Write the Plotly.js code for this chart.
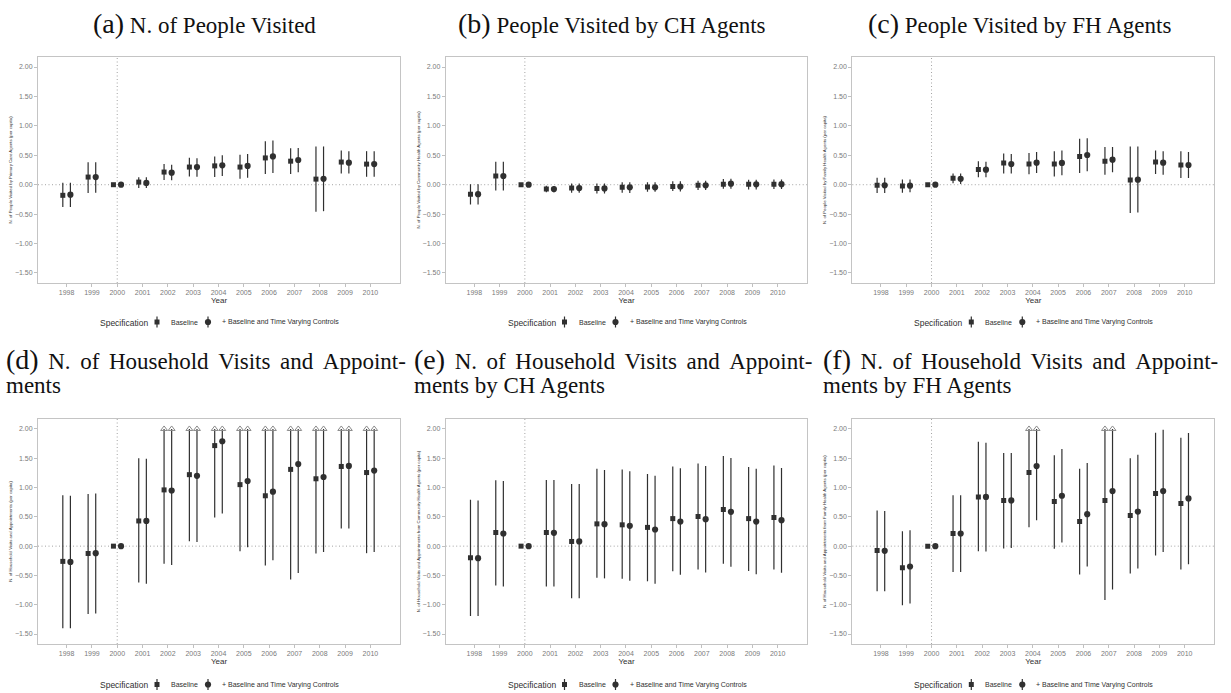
<!DOCTYPE html>
<html>
<head>
<meta charset="utf-8">
<script src="https://cdn.plot.ly/plotly-3.0.1.min.js"></script>
<style>html,body{margin:0;padding:0;background:#fff;}#chart{width:1231px;height:693px;}</style>
</head>
<body>
<div id="chart"></div>
<script>
// ---------------- DATA ----------------
const years = [1998, 1999, 2000, 2001, 2002, 2003, 2004, 2005, 2006, 2007, 2008, 2009, 2010];
const seriesNames = ['Baseline', '+ Baseline and Time Varying Controls'];
const legendTitle = 'Specification';
const xTitle = 'Year';
const yTickVals = [2.0, 1.5, 1.0, 0.5, 0.0, -0.5, -1.0, -1.5];
const capValue = 2.0;

// (a) N. of People Visited
const aBaseEst = [-0.18, 0.13, 0, 0.045, 0.215, 0.30, 0.32, 0.30, 0.455, 0.40, 0.095, 0.385, 0.35];
const aBaseLo  = [-0.38, -0.14, 0, -0.055, 0.08, 0.14, 0.13, 0.10, 0.18, 0.18, -0.46, 0.19, 0.135];
const aBaseHi  = [0.035, 0.38, 0, 0.125, 0.35, 0.46, 0.48, 0.51, 0.74, 0.62, 0.65, 0.58, 0.57];
const aCtrlEst = [-0.17, 0.13, 0, 0.03, 0.205, 0.30, 0.33, 0.32, 0.48, 0.42, 0.10, 0.375, 0.35];
const aCtrlLo  = [-0.38, -0.135, 0, -0.057, 0.075, 0.135, 0.15, 0.12, 0.20, 0.21, -0.45, 0.19, 0.135];
const aCtrlHi  = [0.035, 0.38, 0, 0.125, 0.34, 0.45, 0.50, 0.52, 0.75, 0.625, 0.65, 0.57, 0.57];

// (b) People Visited by CH Agents
const bBaseEst = [-0.16, 0.148, 0, -0.074, -0.057, -0.063, -0.045, -0.04, -0.03, -0.01, 0.01, 0.006, 0.01];
const bBaseLo  = [-0.335, -0.097, 0, -0.13, -0.136, -0.15, -0.136, -0.12, -0.108, -0.09, -0.068, -0.08, -0.074];
const bBaseHi  = [0.01, 0.39, 0, -0.017, 0.02, 0.02, 0.04, 0.04, 0.057, 0.068, 0.097, 0.085, 0.09];
const bCtrlEst = [-0.16, 0.148, 0, -0.074, -0.057, -0.063, -0.045, -0.045, -0.03, -0.01, 0.017, 0.006, 0.01];
const bCtrlLo  = [-0.335, -0.097, 0, -0.13, -0.136, -0.15, -0.142, -0.12, -0.114, -0.09, -0.068, -0.08, -0.074];
const bCtrlHi  = [0.01, 0.39, 0, -0.023, 0.02, 0.02, 0.04, 0.04, 0.057, 0.068, 0.10, 0.085, 0.09];

// (c) People Visited by FH Agents
const cBaseEst = [-0.01, -0.023, 0, 0.108, 0.26, 0.37, 0.35, 0.35, 0.48, 0.40, 0.08, 0.386, 0.335];
const cBaseLo  = [-0.14, -0.136, 0, 0.023, 0.125, 0.19, 0.176, 0.14, 0.20, 0.17, -0.48, 0.18, 0.114];
const cBaseHi  = [0.12, 0.09, 0, 0.19, 0.40, 0.53, 0.54, 0.57, 0.78, 0.64, 0.65, 0.58, 0.57];
const cCtrlEst = [-0.01, -0.017, 0, 0.10, 0.256, 0.35, 0.375, 0.37, 0.505, 0.426, 0.085, 0.375, 0.335];
const cCtrlLo  = [-0.14, -0.13, 0, 0.011, 0.125, 0.19, 0.20, 0.16, 0.227, 0.21, -0.47, 0.17, 0.114];
const cCtrlHi  = [0.12, 0.09, 0, 0.19, 0.39, 0.52, 0.557, 0.58, 0.79, 0.64, 0.65, 0.57, 0.557];

// (d) N. of Household Visits and Appointments
const dBaseEst = [-0.26, -0.125, 0, 0.43, 0.96, 1.22, 1.716, 1.05, 0.86, 1.31, 1.15, 1.36, 1.256];
const dBaseLo  = [-1.40, -1.16, 0, -0.62, -0.30, 0.085, 0.49, -0.085, -0.33, -0.57, -0.125, 0.30, -0.12];
const dBaseHi  = [0.87, 0.89, 0, 1.50, 2.22, 2.355, 2.94, 2.185, 2.05, 3.19, 2.43, 2.42, 2.63];
const dCtrlEst = [-0.27, -0.12, 0, 0.43, 0.95, 1.20, 1.79, 1.11, 0.93, 1.40, 1.18, 1.37, 1.29];
const dCtrlLo  = [-1.40, -1.15, 0, -0.64, -0.32, 0.07, 0.557, -0.017, -0.24, -0.46, -0.10, 0.30, -0.10];
const dCtrlHi  = [0.86, 0.90, 0, 1.49, 2.22, 2.33, 3.02, 2.24, 2.10, 3.26, 2.46, 2.44, 2.68];

// (e) N. of Household Visits and Appointments by CH Agents
const eBaseEst = [-0.20, 0.233, 0, 0.233, 0.08, 0.38, 0.364, 0.32, 0.47, 0.506, 0.625, 0.47, 0.49];
const eBaseLo  = [-1.19, -0.67, 0, -0.69, -0.89, -0.54, -0.557, -0.60, -0.43, -0.40, -0.30, -0.426, -0.40];
const eBaseHi  = [0.79, 1.125, 0, 1.13, 1.06, 1.32, 1.31, 1.23, 1.36, 1.41, 1.54, 1.35, 1.375];
const eCtrlEst = [-0.205, 0.216, 0, 0.227, 0.08, 0.375, 0.347, 0.284, 0.42, 0.46, 0.585, 0.42, 0.443];
const eCtrlLo  = [-1.19, -0.69, 0, -0.69, -0.89, -0.55, -0.59, -0.64, -0.49, -0.45, -0.35, -0.48, -0.455];
const eCtrlHi  = [0.78, 1.11, 0, 1.13, 1.06, 1.30, 1.28, 1.20, 1.33, 1.37, 1.506, 1.32, 1.335];

// (f) N. of Household Visits and Appointments by FH Agents
const fBaseEst = [-0.074, -0.37, 0, 0.216, 0.84, 0.78, 1.258, 0.763, 0.42, 0.78, 0.524, 0.90, 0.73];
const fBaseLo  = [-0.77, -1.01, 0, -0.44, -0.085, -0.04, 0.324, -0.046, -0.484, -0.92, -0.467, -0.16, -0.40];
const fBaseHi  = [0.61, 0.256, 0, 0.87, 1.78, 1.59, 2.19, 1.55, 1.32, 2.48, 1.50, 1.935, 1.85];
const fCtrlEst = [-0.08, -0.347, 0, 0.216, 0.84, 0.78, 1.366, 0.86, 0.546, 0.94, 0.59, 0.94, 0.814];
const fCtrlLo  = [-0.77, -0.98, 0, -0.44, -0.09, -0.03, 0.44, 0.063, -0.347, -0.74, -0.38, -0.10, -0.31];
const fCtrlHi  = [0.60, 0.273, 0, 0.87, 1.765, 1.59, 2.29, 1.656, 1.42, 2.62, 1.56, 1.986, 1.93];

const panelLabels = ['(a)', '(b)', '(c)', '(d)', '(e)', '(f)'];
const titleLine1 = [
  'N. of People Visited',
  'People Visited by CH Agents',
  'People Visited by FH Agents',
  'N. of Household Visits and Appoint-',
  'N. of Household Visits and Appoint-',
  'N. of Household Visits and Appoint-'
];
const titleLine2 = ['', '', '', 'ments', 'ments by CH Agents', 'ments by FH Agents'];
const yTitles = [
  'N. of People Visited by Primary Care Agents (per capita)',
  'N. of People Visited by Community Health Agents (per capita)',
  'N. of People Visited by Family Health Agents (per capita)',
  'N. of Household Visits and Appointments (per capita)',
  'N. of Household Visits and Appointments from Community Health Agents (per capita)',
  'N. of Household Visits and Appointments from Family Health Agents (per capita)'
];

const panelData = [
  [[aBaseEst, aBaseLo, aBaseHi], [aCtrlEst, aCtrlLo, aCtrlHi]],
  [[bBaseEst, bBaseLo, bBaseHi], [bCtrlEst, bCtrlLo, bCtrlHi]],
  [[cBaseEst, cBaseLo, cBaseHi], [cCtrlEst, cCtrlLo, cCtrlHi]],
  [[dBaseEst, dBaseLo, dBaseHi], [dCtrlEst, dCtrlLo, dCtrlHi]],
  [[eBaseEst, eBaseLo, eBaseHi], [eCtrlEst, eCtrlLo, eCtrlHi]],
  [[fBaseEst, fBaseLo, fBaseHi], [fCtrlEst, fCtrlLo, fCtrlHi]]
];

// ---------------- LAYOUT / STYLE ----------------
const W = 1231, H = 693;
const colPx = [[38, 400], [445.7, 807.3], [852.3, 1214.3]];
const rowPx = [[57, 283], [419, 644]];
const legendRowY = [322, 684.5];
const xRange = [1996.87, 2011.17];
const yRange = [-1.67, 2.17];
const offsets = [-0.15, 0.15];
const symbols = ['square', 'circle'];
const sizes = [5, 6.2];
const ink = '#303030';
const tickGray = '#7a7a7a';
const sansFont = 'Liberation Sans, Arial, sans-serif';
const serifFont = 'Liberation Serif, DejaVu Serif, serif';
// justified first title lines: widen the inter-word spaces a little
const justify = s => s.split(' ').join(' \u2006');

const traces = [];
const layout = {
  width: W, height: H,
  margin: {l: 0, r: 0, t: 0, b: 0},
  paper_bgcolor: '#fff', plot_bgcolor: 'rgba(0,0,0,0)',
  font: {family: sansFont, color: ink},
  showlegend: false,
  shapes: [], annotations: []
};

// overlay axis in pixel units, used only for the legend keys
layout.xaxis7 = {domain: [0, 1], anchor: 'y7', range: [0, W], visible: false, fixedrange: true};
layout.yaxis7 = {domain: [0, 1], anchor: 'x7', range: [H, 0], visible: false, fixedrange: true};

for (let p = 0; p < 6; p++) {
  const row = Math.floor(p / 3), col = p % 3;
  const sfx = p === 0 ? '' : String(p + 1);
  const xa = 'x' + sfx, ya = 'y' + sfx;
  const xd = [colPx[col][0] / W, colPx[col][1] / W];
  const yd = [1 - rowPx[row][1] / H, 1 - rowPx[row][0] / H];

  layout['xaxis' + sfx] = {
    domain: xd, anchor: ya, range: xRange,
    tickvals: years, ticktext: years.map(String),
    showgrid: false, zeroline: false,
    showline: true, mirror: true, linecolor: '#c4c4c4', linewidth: 1,
    ticks: 'outside', ticklen: 3, tickwidth: 0.8, tickcolor: '#b0b0b0',
    tickfont: {size: 7, color: tickGray, family: sansFont},
    title: {text: xTitle, font: {size: 8, color: ink, family: sansFont}, standoff: 1},
    fixedrange: true
  };
  layout['yaxis' + sfx] = {
    domain: yd, anchor: xa, range: yRange,
    tickvals: yTickVals, tickformat: '.2f',
    showgrid: false, zeroline: false,
    showline: true, mirror: true, linecolor: '#c4c4c4', linewidth: 1,
    ticks: 'outside', ticklen: 3, tickwidth: 0.8, tickcolor: '#b0b0b0',
    tickfont: {size: 7, color: tickGray, family: sansFont},
    title: {text: yTitles[p], font: {size: 4.3, color: ink, family: sansFont}, standoff: 2},
    fixedrange: true
  };

  // reference lines
  layout.shapes.push({type: 'line', xref: xa, yref: ya + ' domain', x0: 2000, x1: 2000, y0: 0, y1: 1,
    line: {color: '#9a9a9a', width: 0.9, dash: '1px,2.5px'}, layer: 'below'});
  layout.shapes.push({type: 'line', xref: xa + ' domain', yref: ya, x0: 0, x1: 1, y0: 0, y1: 0,
    line: {color: '#9a9a9a', width: 0.9, dash: '1px,2.5px'}, layer: 'below'});

  for (let s = 0; s < 2; s++) {
    const [est, lo, hi] = panelData[p][s];
    const xs = years.map(v => v + offsets[s]);
    traces.push({
      type: 'scatter', mode: 'markers', xaxis: xa, yaxis: ya,
      x: xs, y: est, name: seriesNames[s],
      marker: {symbol: symbols[s], size: sizes[s], color: ink},
      error_y: {
        type: 'data', symmetric: false,
        array: hi.map((h, i) => Math.min(h, capValue) - est[i]),
        arrayminus: lo.map((l, i) => est[i] - l),
        width: 0, thickness: 1.2, color: ink
      },
      hoverinfo: 'skip'
    });
    // arrow heads where CI is truncated at the cap
    const ax = [], ay = [];
    hi.forEach((h, i) => { if (h > capValue) { ax.push(xs[i]); ay.push(capValue); } });
    if (ax.length) {
      traces.push({
        type: 'scatter', mode: 'markers', xaxis: xa, yaxis: ya,
        x: ax, y: ay, hoverinfo: 'skip',
        marker: {symbol: 'triangle-up-open', size: 6, color: '#8a8a8a', line: {width: 1, color: '#8a8a8a'}}
      });
    }
  }

  // legend (keys + texts)
  const cx = (colPx[col][0] + colPx[col][1]) / 2;
  const ly = legendRowY[row];
  const keyX = [cx - 62, cx - 11];
  const txtX = [cx - 50, cx + 1];
  for (let s = 0; s < 2; s++) {
    traces.push({
      type: 'scatter', mode: 'markers', xaxis: 'x7', yaxis: 'y7',
      x: [keyX[s]], y: [ly], hoverinfo: 'skip',
      marker: {symbol: symbols[s], size: sizes[s], color: ink},
      error_y: {type: 'constant', value: 5.5, width: 0, thickness: 1.2, color: ink}
    });
    layout.annotations.push({
      xref: 'paper', yref: 'paper', x: txtX[s] / W, y: 1 - ly / H,
      xanchor: 'left', yanchor: 'middle', showarrow: false,
      text: seriesNames[s], font: {size: 7, color: ink, family: sansFont}
    });
  }
  layout.annotations.push({
    xref: 'paper', yref: 'paper', x: (cx - 121) / W, y: 1 - (ly + 0.5) / H,
    xanchor: 'left', yanchor: 'middle', showarrow: false,
    text: legendTitle, font: {size: 8.5, color: ink, family: sansFont}
  });

  // panel titles
  const label = '<span style="font-size:28px">' + panelLabels[p] + '</span> ';
  if (row === 0) {
    const centers = [204, 612, 1019];
    layout.annotations.push({
      xref: 'paper', yref: 'paper', x: centers[col] / W, y: 1 - 23 / H,
      xanchor: 'center', yanchor: 'middle', showarrow: false,
      text: label + titleLine1[p],
      font: {family: serifFont, size: 23, color: '#111'}
    });
  } else {
    const lefts = [4, 412, 821];
    layout.annotations.push({
      xref: 'paper', yref: 'paper', x: lefts[col] / W, y: 1 - 359 / H,
      xanchor: 'left', yanchor: 'middle', showarrow: false,
      text: label + '\u2006' + justify(titleLine1[p]),
      font: {family: serifFont, size: 23, color: '#111'}
    });
    layout.annotations.push({
      xref: 'paper', yref: 'paper', x: lefts[col] / W, y: 1 - 385 / H,
      xanchor: 'left', yanchor: 'middle', showarrow: false,
      text: titleLine2[p],
      font: {family: serifFont, size: 23, color: '#111'}
    });
  }
}

Plotly.newPlot('chart', traces, layout, {staticPlot: true, displayModeBar: false});
</script>
</body>
</html>
